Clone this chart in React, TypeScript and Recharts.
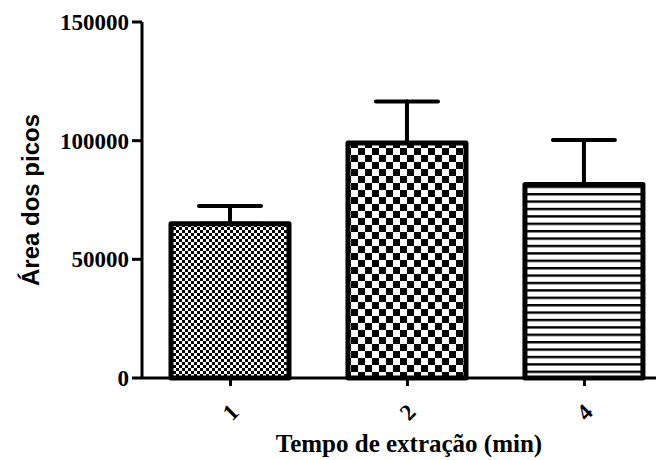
import { BarChart, Bar, XAxis, YAxis, ErrorBar, Cell } from 'recharts'

// Tempo de extração (min) vs área dos picos, média + erro (só barra superior)
const CATEGORIES = ['1', '2', '4']
const AREA = [65000, 99000, 81500]
const ERR = [7500, 17500, 18800]
const FILLS = ['url(#fineCheck)', 'url(#coarseCheck)', 'url(#hLines)']
const Y_TICKS = [0, 50000, 100000, 150000]
const X_TICKS = [1, 2, 3]

const rows = CATEGORIES.map((c, i) => ({
  pos: i + 1,
  label: c,
  area: AREA[i],
  err: [0, ERR[i]],
}))

const serif = '"Liberation Serif", "Times New Roman", serif'
const sans = '"Liberation Sans", Arial, sans-serif'

function RotatedTick({ x, y, payload }: any) {
  return (
    <g transform={`translate(${x},${Number(y) + 24})`}>
      <text
        transform="rotate(-45)"
        textAnchor="middle"
        dy="0.35em"
        fontFamily={serif}
        fontWeight="bold"
        fontSize={23}
        fill="#000"
      >
        {CATEGORIES[payload.value - 1]}
      </text>
    </g>
  )
}

export default function App() {
  return (
    <BarChart
      width={656}
      height={452}
      data={rows}
      margin={{ top: 14, right: 4, bottom: 0, left: 0 }}
    >
      <defs>
        <pattern id="fineCheck" width={6} height={6} patternUnits="userSpaceOnUse">
          <rect width={6} height={6} fill="#fff" />
          <rect x={0} y={0} width={3} height={3} fill="#000" />
          <rect x={3} y={3} width={3} height={3} fill="#000" />
        </pattern>
        <pattern id="coarseCheck" width={14} height={14} patternUnits="userSpaceOnUse">
          <rect width={14} height={14} fill="#fff" />
          <rect x={0} y={0} width={7} height={7} fill="#000" />
          <rect x={7} y={7} width={7} height={7} fill="#000" />
        </pattern>
        <pattern id="hLines" width={8} height={7.4} patternUnits="userSpaceOnUse">
          <rect width={8} height={7.4} fill="#fff" />
          <rect x={0} y={0} width={8} height={2.4} fill="#000" />
        </pattern>
      </defs>
      <XAxis
        dataKey="pos"
        type="number"
        domain={[0.5, 3.427]}
        ticks={X_TICKS}
        allowDataOverflow
        height={82}
        tickSize={8}
        axisLine={{ stroke: '#000', strokeWidth: 3 }}
        tickLine={{ stroke: '#000', strokeWidth: 3 }}
        tick={<RotatedTick />}
        label={{
          value: 'Tempo de extração (min)',
          position: 'insideBottom',
          offset: 8,
          dx: 8,
          style: { fontFamily: serif, fontWeight: 'bold', fontSize: 25, fill: '#000' },
        }}
      />
      <YAxis
        width={134}
        domain={[0, 150000]}
        ticks={Y_TICKS}
        tickSize={10}
        tickMargin={3}
        axisLine={{ stroke: '#000', strokeWidth: 3 }}
        tickLine={{ stroke: '#000', strokeWidth: 3 }}
        tick={{ fontFamily: serif, fontWeight: 'bold', fontSize: 23, fill: '#000' }}
        label={{
          value: 'Área dos picos',
          angle: -90,
          position: 'insideLeft',
          offset: 22,
          style: { textAnchor: 'middle', fontFamily: sans, fontWeight: 'bold', fontSize: 24, fill: '#000' },
        }}
      />
      <Bar
        dataKey="area"
        barSize={118}
        stroke="#000"
        strokeWidth={5}
        strokeLinejoin="round"
        isAnimationActive={false}
      >
        {rows.map((r, i) => (
          <Cell key={r.label} fill={FILLS[i]} />
        ))}
        <ErrorBar
          dataKey="err"
          direction="y"
          width={31}
          stroke="#000"
          strokeWidth={4}
          strokeLinecap="round"
          isAnimationActive={false}
        />
      </Bar>
    </BarChart>
  )
}
